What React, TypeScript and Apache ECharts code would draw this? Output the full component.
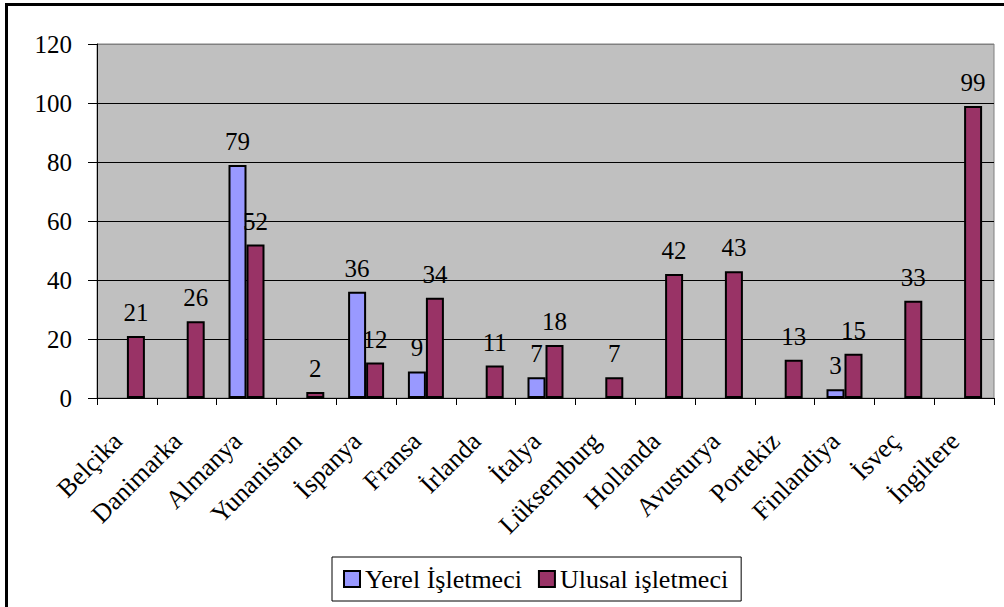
import React, { useEffect, useRef } from "react";
import * as echarts from "echarts";

// Countries along the category axis
const countries = [
  "Belçika",
  "Danimarka",
  "Almanya",
  "Yunanistan",
  "İspanya",
  "Fransa",
  "İrlanda",
  "İtalya",
  "Lüksemburg",
  "Hollanda",
  "Avusturya",
  "Portekiz",
  "Finlandiya",
  "İsveç",
  "İngiltere",
];

// Local operators (empty where none)
const yerelValues: (number | null)[] = [
  null, null, 79, null, 36, 9, null, 7, null, null, null, null, 3, null, null,
];

// National operators
const ulusalValues: (number | null)[] = [
  21, 26, 52, 2, 12, 34, 11, 18, 7, 42, 43, 13, 15, 33, 99,
];

const seriesNames = ["Yerel İşletmeci", "Ulusal işletmeci"];

const FONT = "Liberation Serif";
const NUM_SIZE = 25;
const TEXT_SIZE = 26;

const pageCss = `body { margin: 0; overflow: hidden; }`;

export default function App() {
  const ref = useRef<HTMLDivElement>(null);

  useEffect(() => {
    if (!ref.current) return;
    const chart = echarts.init(ref.current, undefined, { renderer: "svg" });

    const barLabel = {
      show: true,
      position: "top",
      distance: 11,
      color: "#000",
      fontFamily: FONT,
      fontSize: NUM_SIZE,
    };

    chart.setOption({
      animation: false,
      textStyle: { fontFamily: FONT, fontSize: NUM_SIZE, color: "#000" },
      grid: {
        left: 97,
        top: 44,
        right: 10,
        bottom: 209,
        show: true,
        backgroundColor: "#C0C0C0",
        borderColor: "#808080",
        borderWidth: 1,
      },
      // outer chart frame, running past the right and bottom page edges
      graphic: [
        {
          type: "rect",
          z: 100,
          silent: true,
          shape: { x: 6.5, y: 4.5, width: 1020, height: 640 },
          style: { fill: "none", stroke: "#000", lineWidth: 3 },
        },
      ],
      legend: {
        data: seriesNames,
        left: 332,
        top: 557,
        orient: "horizontal",
        borderColor: "#000",
        borderWidth: 1,
        padding: [9, 13, 9, 11],
        itemGap: 16,
        itemWidth: 16,
        itemHeight: 16,
        icon: "rect",
        textStyle: { fontFamily: FONT, fontSize: TEXT_SIZE, color: "#000" },
      },
      xAxis: {
        type: "category",
        data: countries,
        axisLine: { lineStyle: { color: "#000", width: 1 } },
        axisTick: { show: true, length: 7, lineStyle: { color: "#000" } },
        axisLabel: {
          interval: 0,
          rotate: 45,
          margin: 48,
          verticalAlign: "bottom",
          color: "#000",
          fontFamily: FONT,
          fontSize: TEXT_SIZE,
        },
      },
      yAxis: {
        type: "value",
        min: 0,
        max: 120,
        interval: 20,
        axisLine: { show: true, lineStyle: { color: "#000", width: 1 } },
        axisTick: { show: true, length: 9, lineStyle: { color: "#000" } },
        axisLabel: {
          margin: 25,
          color: "#000",
          fontFamily: FONT,
          fontSize: NUM_SIZE,
        },
        splitLine: {
          show: true,
          lineStyle: {
            color: ["#000", "#000", "#000", "#000", "#000", "#000", "#808080"],
            width: 1,
          },
        },
      },
      series: [
        {
          name: seriesNames[0],
          type: "bar",
          data: yerelValues,
          barWidth: 18,
          barGap: "0%",
          itemStyle: { color: "#9999FF", borderColor: "#000", borderWidth: 2 },
          label: barLabel,
        },
        {
          name: seriesNames[1],
          type: "bar",
          data: ulusalValues,
          barWidth: 18,
          barGap: "0%",
          itemStyle: { color: "#993366", borderColor: "#000", borderWidth: 2 },
          label: barLabel,
        },
      ],
    });

    return () => chart.dispose();
  }, []);

  return (
    <>
      <style>{pageCss}</style>
      <div ref={ref} style={{ width: 1004, height: 607 }} />
    </>
  );
}
